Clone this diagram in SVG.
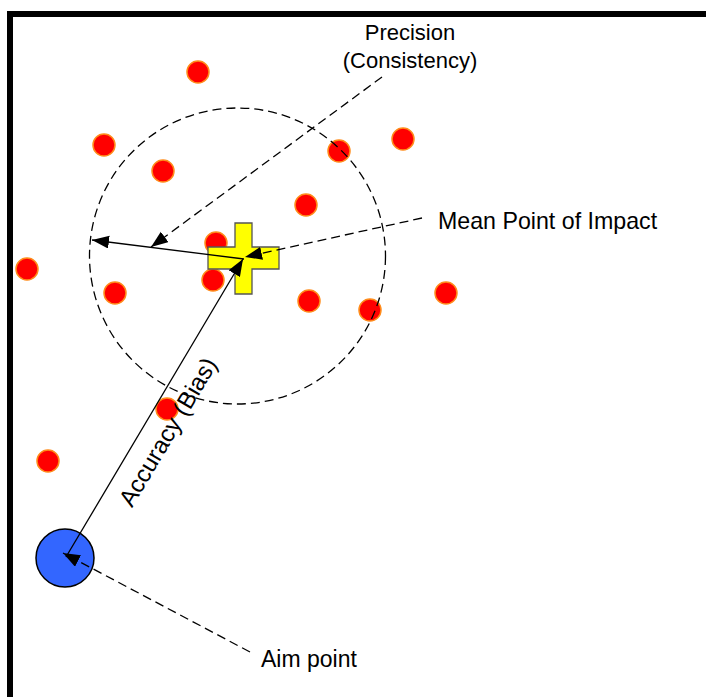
<svg xmlns="http://www.w3.org/2000/svg" width="706" height="697" viewBox="0 0 706 697">
<defs>
<style>
.shot{fill:#FF0000;stroke:#FF8C1A;stroke-width:1.5}
.dash{fill:none;stroke:#000;stroke-width:1.3;stroke-dasharray:9,5}
.solid{fill:none;stroke:#000;stroke-width:1.3}
.lbl{font-family:"Liberation Sans",Arial,sans-serif;fill:#000}
</style>
<marker id="ah" markerUnits="userSpaceOnUse" markerWidth="20" markerHeight="14" refX="17" refY="6.5" orient="auto">
<path d="M0,0 L17,6.5 L0,13 Z" fill="#000"/>
</marker>
</defs>
<rect width="706" height="697" fill="#fff"/>
<g id="frame">
<rect x="7" y="11" width="699" height="6" fill="#000"/>
<rect x="7" y="11" width="6" height="686" fill="#000"/>
</g>
<g id="shots">
<circle class="shot" cx="198" cy="72" r="11"/>
<circle class="shot" cx="104" cy="145" r="11"/>
<circle class="shot" cx="163" cy="171" r="11"/>
<circle class="shot" cx="339" cy="151" r="11"/>
<circle class="shot" cx="403" cy="139" r="11"/>
<circle class="shot" cx="306" cy="205" r="11"/>
<circle class="shot" cx="216" cy="243" r="11"/>
<circle class="shot" cx="27" cy="269" r="11"/>
<circle class="shot" cx="115" cy="293" r="11"/>
<circle class="shot" cx="213" cy="280" r="11"/>
<circle class="shot" cx="309" cy="301" r="11"/>
<circle class="shot" cx="370" cy="310" r="11"/>
<circle class="shot" cx="446" cy="293" r="11"/>
<circle class="shot" cx="167" cy="409" r="11"/>
<circle class="shot" cx="48" cy="461" r="11"/>
</g>
<g id="precision-circle">
<circle class="dash" cx="237.5" cy="256" r="148"/>
</g>
<g id="mpi">
<path d="M235,223 H252 V247 H279 V269 H252 V294 H235 V269 H208 V247 H235 Z" fill="#FFFF00" stroke="#555" stroke-width="1.3"/>
</g>
<g id="aim">
<circle cx="65" cy="558" r="29" fill="#3366FF" stroke="#000" stroke-width="1.5"/>
</g>
<g id="connectors">
<line class="solid" x1="244" y1="259" x2="92" y2="240" marker-end="url(#ah)"/>
<line class="dash" x1="382" y1="77" x2="151" y2="247" marker-end="url(#ah)"/>
<line class="dash" x1="422" y1="218" x2="245" y2="257" marker-end="url(#ah)"/>
<line class="solid" x1="66" y1="557" x2="243" y2="259" marker-end="url(#ah)"/>
<line class="dash" x1="250" y1="652" x2="63" y2="553" marker-end="url(#ah)"/>
</g>
<g id="labels">
<text class="lbl" x="410" y="40" font-size="22" text-anchor="middle">Precision</text>
<text class="lbl" x="410" y="68" font-size="22" text-anchor="middle">(Consistency)</text>
<text class="lbl" x="438" y="229" font-size="23.2">Mean Point of Impact</text>
<text class="lbl" x="261" y="667" font-size="23">Aim point</text>
<text class="lbl" x="175" y="436" font-size="24" text-anchor="middle" transform="rotate(-59.3 175 436)">Accuracy (Bias)</text>
</g>
</svg>
